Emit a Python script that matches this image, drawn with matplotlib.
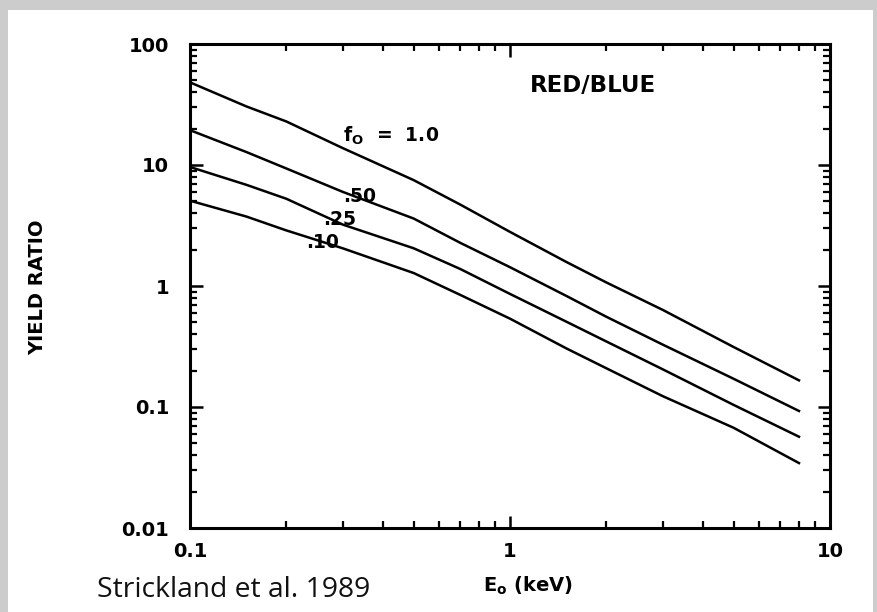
import matplotlib
matplotlib.use("Agg")
import matplotlib.pyplot as plt
from matplotlib.patches import Rectangle
from matplotlib.ticker import FixedLocator, FixedFormatter, LogLocator, NullFormatter

# ── 곡선 데이터 (E0 [keV] 대비 RED/BLUE 수율비) ─────────────────────────────
energy_kev = [0.1, 0.15, 0.2, 0.3, 0.5, 0.7, 1.0, 1.5, 2.0, 3.0, 5.0, 8.0]
ratio_f100 = [48.2, 30.5, 22.9, 13.8, 7.5, 4.7, 2.8, 1.58, 1.07, 0.635, 0.313, 0.166]
ratio_f050 = [19.4, 12.8, 9.36, 6.0, 3.61, 2.27, 1.43, 0.828, 0.557, 0.328, 0.171, 0.0927]
ratio_f025 = [9.63, 6.86, 5.26, 3.22, 2.05, 1.38, 0.86, 0.507, 0.348, 0.205, 0.104, 0.0568]
ratio_f010 = [5.07, 3.75, 2.88, 2.05, 1.28, 0.843, 0.537, 0.305, 0.209, 0.123, 0.0673, 0.0344]

x_ticks = [0.1, 1, 10]
x_tick_labels = ["0.1", "1", "10"]
y_ticks = [0.01, 0.1, 1, 10, 100]
y_tick_labels = ["0.01", "0.1", "1", "10", "100"]

W, H = 878, 612
fig = plt.figure(figsize=(W / 100, H / 100), dpi=100)
fig.patch.set_facecolor("#cccccc")
# 흰 바탕 (위/왼쪽/오른쪽은 회색 테두리)
fig.add_artist(Rectangle((8 / W, 0), (W - 13) / W, (H - 10) / H,
                         transform=fig.transFigure, facecolor="white",
                         edgecolor="none", zorder=-10))

ax = fig.add_axes([190 / W, 84 / H, 640 / W, 484 / H])
ax.set_xscale("log")
ax.set_yscale("log")
ax.set_xlim(0.1, 10)
ax.set_ylim(0.01, 100)

for series in (ratio_f100, ratio_f050, ratio_f025, ratio_f010):
    ax.plot(energy_kev, series, color="black", lw=1.8, solid_joinstyle="round")

tick_font = {"family": "DejaVu Sans", "weight": "bold", "size": 14}
ax.xaxis.set_major_locator(FixedLocator(x_ticks))
ax.xaxis.set_major_formatter(FixedFormatter(x_tick_labels))
ax.yaxis.set_major_locator(FixedLocator(y_ticks))
ax.yaxis.set_major_formatter(FixedFormatter(y_tick_labels))
for axis in (ax.xaxis, ax.yaxis):
    axis.set_minor_locator(LogLocator(base=10, subs=range(2, 10)))
    axis.set_minor_formatter(NullFormatter())
ax.tick_params(which="both", direction="in", top=True, right=True, color="black")
ax.tick_params(which="major", length=9, width=1.8)
ax.tick_params(which="minor", length=5, width=1.6)
ax.tick_params(axis="x", which="major", pad=10)
ax.tick_params(axis="y", which="major", pad=15)
for lbl in ax.get_xticklabels() + ax.get_yticklabels():
    lbl.set_fontproperties(tick_font)
for sp in ax.spines.values():
    sp.set_linewidth(2.2)

label_kw = dict(fontsize=13.5, fontweight="bold", family="DejaVu Sans")
ax.text(0.30, 17.3, r"$\mathbf{f_O}$  =  1.0", ha="left", va="center", **label_kw)
ax.text(0.34, 5.47, ".50", ha="center", va="center", **label_kw)
ax.text(0.294, 3.54, ".25", ha="center", va="center", **label_kw)
ax.text(0.26, 2.29, ".10", ha="center", va="center", **label_kw)
ax.text(1.82, 45.3, "RED/BLUE", ha="center", va="center",
        fontsize=16.5, fontweight="bold", family="DejaVu Sans")

fig.text(38 / W, 1 - 287 / H, "YIELD RATIO", rotation=90, ha="center", va="center",
         fontsize=14, fontweight="bold", family="DejaVu Sans")
fig.text(528 / W, 1 - 586 / H, r"$\mathbf{E_o}$ (keV)", ha="center", va="center",
         fontsize=14, fontweight="bold", family="DejaVu Sans")
fig.text(97 / W, 1 - 590 / H, "Strickland et al. 1989", ha="left", va="center",
         fontsize=20.3, family=["Open Sans", "DejaVu Sans"], color="#111111")

fig.savefig("out.png", dpi=100, facecolor=fig.get_facecolor())
